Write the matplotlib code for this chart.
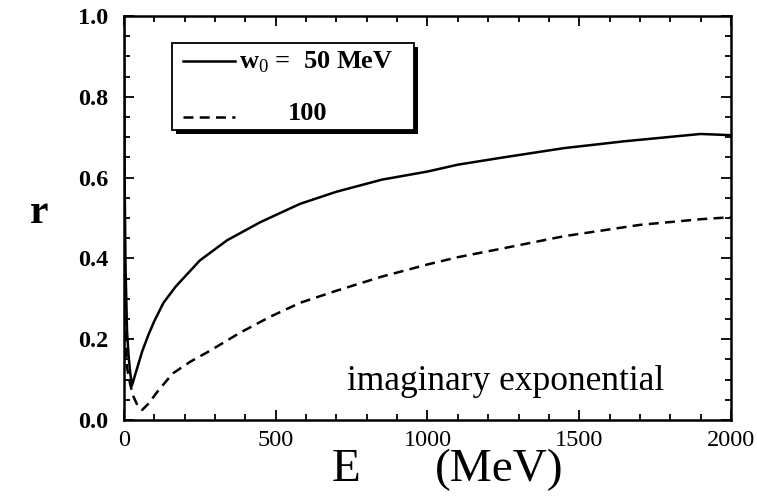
import matplotlib
matplotlib.use("Agg")
from matplotlib import pyplot as plt
from matplotlib.patches import Rectangle
from matplotlib.ticker import MultipleLocator

# Curve for w0 = 50 MeV (solid)
e_50 = [0, 2, 5, 10, 15, 20, 26, 40, 60, 80, 100, 130, 170, 250, 340, 450,
        580, 700, 850, 1000, 1100, 1250, 1450, 1650, 1900, 2000]
r_50 = [1.0, 0.6, 0.38, 0.22, 0.16, 0.12, 0.085, 0.12, 0.17, 0.21, 0.245,
        0.29, 0.33, 0.395, 0.445, 0.49, 0.535, 0.565, 0.595, 0.615, 0.632,
        0.65, 0.673, 0.69, 0.708, 0.705]

# Curve for w0 = 100 MeV (dashed)
e_100 = [0, 5, 10, 20, 30, 45, 60, 80, 110, 160, 220, 280, 380, 480, 580,
         700, 850, 1000, 1100, 1250, 1450, 1700, 1900, 2000]
r_100 = [0.38, 0.2, 0.13, 0.09, 0.06, 0.035, 0.025, 0.04, 0.07, 0.115, 0.145,
         0.17, 0.215, 0.255, 0.29, 0.32, 0.355, 0.385, 0.403, 0.425, 0.455,
         0.483, 0.497, 0.502]

x_ticks = [0, 500, 1000, 1500, 2000]
y_ticks = [0.0, 0.2, 0.4, 0.6, 0.8, 1.0]

plt.rcParams["font.family"] = ["Liberation Serif", "DejaVu Serif"]
plt.rcParams["mathtext.fontset"] = "custom"
plt.rcParams["mathtext.rm"] = "Liberation Serif"
plt.rcParams["mathtext.bf"] = "Liberation Serif:bold"

W, H = 757, 496
fig = plt.figure(figsize=(W / 100, H / 100), dpi=100)
ax = fig.add_axes([124 / W, 1 - 420 / H, (731 - 124) / W, (420 - 16) / H])


def px(x, y):
    """Pixel position to figure fraction"""
    return x / W, 1 - y / H


# Plot curves
ax.plot(e_50, r_50, color="black", lw=1.8, solid_joinstyle="round")
ax.plot(e_100, r_100, color="black", lw=1.8, dashes=(4, 2.5))

# Axes setup
ax.set_xlim(0, 2000)
ax.set_ylim(0, 1.0)
ax.set_xticks(x_ticks)
ax.set_yticks(y_ticks)
ax.set_xticklabels([str(v) for v in x_ticks], fontsize=17.5)
ax.set_yticklabels([f"{v:.1f}" for v in y_ticks], fontsize=17.5, fontweight="bold")
ax.xaxis.set_minor_locator(MultipleLocator(100))
ax.yaxis.set_minor_locator(MultipleLocator(0.05))
ax.tick_params(which="both", direction="in", top=True, right=True, width=1.3)
ax.tick_params(which="major", length=7)
ax.tick_params(which="minor", length=4.5)
ax.tick_params(axis="y", which="major", pad=11)
ax.tick_params(axis="x", which="major", pad=7)
for sp in ax.spines.values():
    sp.set_linewidth(1.8)

# Axis titles
fig.text(*px(346, 470), "E", fontsize=34, ha="center", va="center")
fig.text(*px(499, 470), "(MeV)", fontsize=34, ha="center", va="center")
fig.text(*px(39, 213), "r", fontsize=30, fontweight="bold", ha="center",
         va="center")

fig.text(*px(347, 381), "imaginary exponential", fontsize=25.5,
         va="center", ha="left")

# Legend box with black shadow
x0, y0 = px(172, 130)
bw, bh = (414 - 172) / W, (130 - 43) / H
fig.add_artist(Rectangle((x0 + 4 / W, y0 - 4 / H), bw, bh, transform=fig.transFigure,
                         facecolor="black", edgecolor="black", lw=0))
fig.add_artist(Rectangle((x0, y0), bw, bh, transform=fig.transFigure,
                         facecolor="white", edgecolor="black", lw=1.3))

lx0, lx1 = 183 / W, 235 / W
fig.add_artist(plt.Line2D([lx0, lx1], [1 - 61 / H] * 2, color="black", lw=1.8,
                          transform=fig.transFigure))
fig.add_artist(plt.Line2D([lx0, lx1], [1 - 117 / H] * 2, color="black", lw=1.8,
                          dashes=(4, 2.5), transform=fig.transFigure))
fig.text(*px(239, 62), r"$\mathbf{w}_0$ =  50 MeV", fontsize=19,
         fontweight="bold", va="center", ha="left")
fig.text(*px(288, 114), "100", fontsize=19, fontweight="bold",
         va="center", ha="left")

plt.savefig("out.png", dpi=100)
